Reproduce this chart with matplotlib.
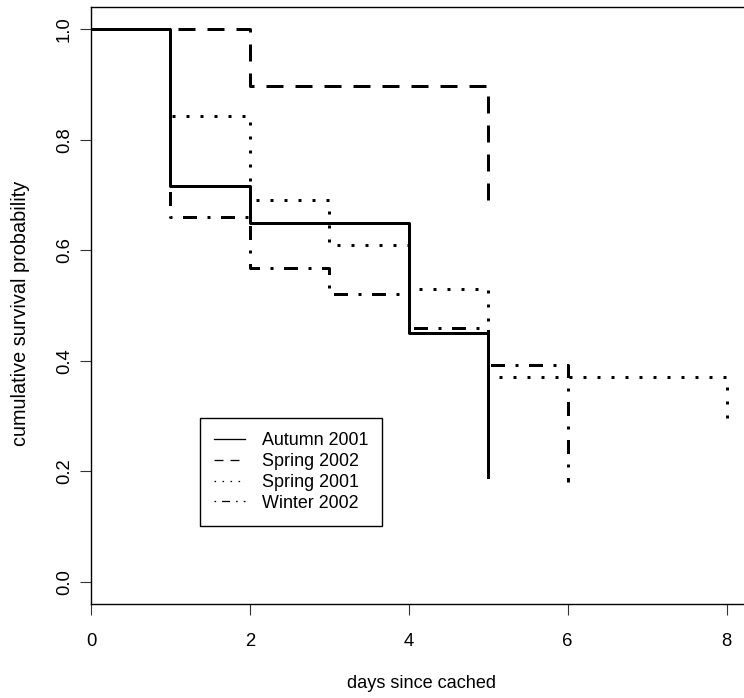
"""Kaplan-Meier style survival curves of cached items, four seasons."""
import matplotlib
matplotlib.use("Agg")
import matplotlib.pyplot as plt
from matplotlib.lines import Line2D

plt.rcParams["font.family"] = ["Liberation Sans", "DejaVu Sans"]
plt.rcParams["lines.scale_dashes"] = False

# step data: day of each drop and survival after it
autumn_2001_days = [0, 1, 2, 4, 5]
autumn_2001_surv = [1.0, 0.716, 0.65, 0.45, 0.19]

spring_2002_days = [0, 2, 5]
spring_2002_surv = [1.0, 0.897, 0.68]

spring_2001_days = [0, 1, 2, 3, 4, 5, 8]
spring_2001_surv = [1.0, 0.842, 0.69, 0.61, 0.53, 0.37, 0.29]

winter_2002_days = [0, 1, 2, 3, 4, 5, 6]
winter_2002_surv = [1.0, 0.66, 0.567, 0.52, 0.46, 0.392, 0.18]

labels = ["Autumn 2001", "Spring 2002", "Spring 2001", "Winter 2002"]
x_ticks = [0, 2, 4, 6, 8]
y_ticks = [0.0, 0.2, 0.4, 0.6, 0.8, 1.0]

PX = 0.72  # points per pixel at 100 dpi
styles = [
    None,
    (0, (17 * PX, 12 * PX)),
    (0, (3 * PX, 11 * PX)),
    (0, (3 * PX, 10.5 * PX, 14 * PX, 10.5 * PX)),
]
legend_styles = [
    None,
    (0, (9 * PX, 7 * PX)),
    (0, (1.6 * PX, 6.4 * PX)),
    (0, (1.6 * PX, 6 * PX, 8 * PX, 6 * PX)),
]

fig = plt.figure(figsize=(7.44, 6.98), dpi=100)
ax = fig.add_axes([91 / 744, 94 / 698, 661 / 744, 597 / 698])

series = [
    (autumn_2001_days, autumn_2001_surv),
    (spring_2002_days, spring_2002_surv),
    (spring_2001_days, spring_2001_surv),
    (winter_2002_days, winter_2002_surv),
]
for (days, surv), ls in zip(series, styles):
    line, = ax.step(days, surv, where="post", color="black", lw=3 * PX)
    if ls is not None:
        line.set_linestyle(ls)
    line.set_dash_capstyle("butt")

ax.set_xlim(0, 8.32)
ax.set_ylim(-0.04, 1.04)
ax.set_xticks(x_ticks)
ax.set_xticklabels([str(t) for t in x_ticks])
ax.set_yticks(y_ticks)
ax.set_yticklabels([f"{t:.1f}" for t in y_ticks], rotation=90, va="center")

ax.spines["right"].set_visible(False)
for side in ["left", "bottom", "top"]:
    ax.spines[side].set_linewidth(1.0)
ax.tick_params(direction="out", length=8, width=0.8, labelsize=13.3, color="#333333")
ax.tick_params(axis="x", pad=13)
ax.tick_params(axis="y", pad=5)

ax.set_xlabel("days since cached", fontsize=13.1)
ax.xaxis.set_label_coords(0.5, -0.133)
ax.xaxis.label.set_va("center")
ax.set_ylabel("cumulative survival probability", fontsize=14.3)
ax.yaxis.set_label_coords(-0.106, 0.487)
ax.yaxis.label.set_va("center")

handles = []
for name, ls in zip(labels, legend_styles):
    h = Line2D([0], [0], color="black", lw=1.3 * PX)
    if ls is not None:
        h.set_linestyle(ls)
    handles.append(h)
leg = ax.legend(handles, labels, loc="upper left", bbox_to_anchor=(0.165, 0.3116),
                borderaxespad=0, fontsize=12.9, handlelength=1.73, handletextpad=0.9,
                labelspacing=0.21, borderpad=0.8, fancybox=False, framealpha=1)
leg.get_frame().set_edgecolor("black")
leg.get_frame().set_linewidth(1.0)

fig.savefig("out.png", dpi=100)
